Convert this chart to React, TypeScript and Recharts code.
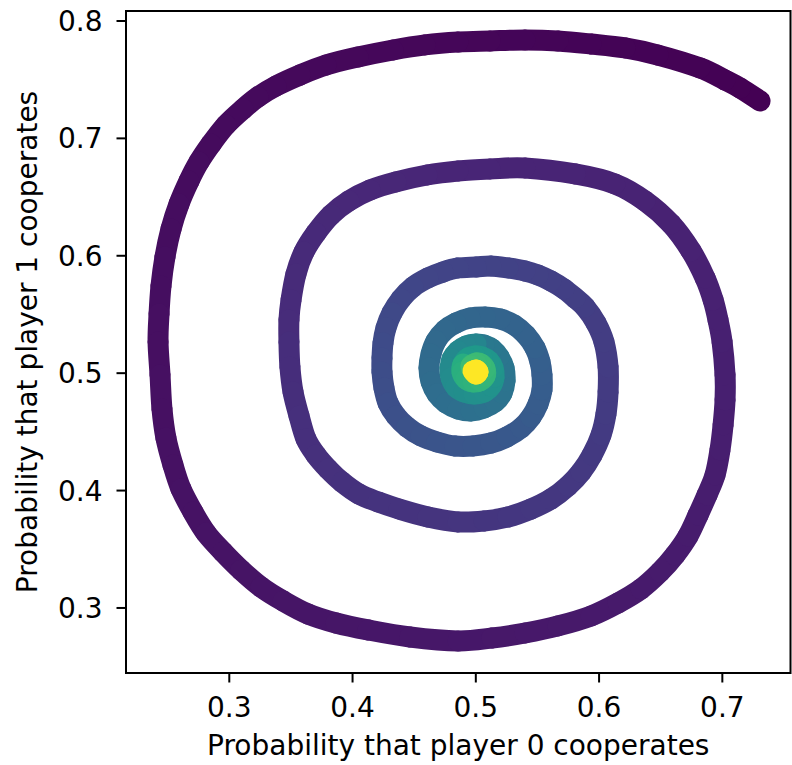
import { ScatterChart, Scatter, XAxis, YAxis, ReferenceArea } from "recharts";

// points, one array per turn of the spiral
const turn1: [number, number][] = [
  [0.7306, 0.7319], [0.7144, 0.7429], [0.7022, 0.7497], [0.6819, 0.76], [0.6478, 0.771],
  [0.6211, 0.777], [0.5935, 0.7804], [0.5667, 0.783], [0.5399, 0.7838], [0.5115, 0.783],
  [0.4856, 0.7821], [0.4588, 0.7796], [0.4328, 0.7753], [0.4044, 0.7693], [0.3785, 0.7625],
  [0.3574, 0.754], [0.3379, 0.7446], [0.3233, 0.7353], [0.3111, 0.725], [0.2973, 0.7114],
  [0.2852, 0.6952], [0.2754, 0.6799], [0.2673, 0.6637], [0.2592, 0.6441], [0.2527, 0.6228],
  [0.2478, 0.599], [0.2446, 0.5743], [0.243, 0.5504], [0.2422, 0.5266], [0.2438, 0.4985],
  [0.2454, 0.4695], [0.2486, 0.4448], [0.2543, 0.4218], [0.2608, 0.4014], [0.2705, 0.3818],
  [0.2811, 0.3639], [0.2949, 0.3477], [0.3095, 0.3324], [0.3257, 0.3179], [0.3436, 0.306],
  [0.3639, 0.2949], [0.3866, 0.2872], [0.4125, 0.2813], [0.4466, 0.2753], [0.4856, 0.2719],
  [0.5131, 0.2744], [0.5399, 0.2787], [0.5667, 0.2847], [0.5935, 0.2932], [0.6154, 0.3043],
  [0.634, 0.3162], [0.6495, 0.3307], [0.6616, 0.3451], [0.6722, 0.3613], [0.6803, 0.3792],
  [0.6876, 0.3963], [0.6941, 0.4133], [0.6981, 0.4346], [0.7006, 0.4559], [0.7022, 0.4772],
  [0.7022, 0.4985], [0.6998, 0.5266], [0.6965, 0.5453], [0.6925, 0.5624], [0.686, 0.5811],
  [0.6746, 0.6041], [0.6584, 0.6271], [0.6373, 0.6467], [0.6129, 0.6612], [0.5805, 0.6697],
  [0.5399, 0.6748], [0.5115, 0.6739], [0.4856, 0.6722],
];

const turn2: [number, number][] = [
  [0.4604, 0.6688], [0.4353, 0.6629], [0.4142, 0.656], [0.3971, 0.6467], [0.3825, 0.6348],
  [0.3703, 0.6194], [0.3606, 0.6032], [0.3541, 0.5845], [0.3501, 0.5624], [0.3484, 0.5453],
  [0.3484, 0.5266], [0.3492, 0.5053], [0.3517, 0.484], [0.3566, 0.4635], [0.3622, 0.444],
  [0.3703, 0.4303], [0.3801, 0.4184], [0.3914, 0.4073], [0.4052, 0.3971], [0.4207, 0.3903],
  [0.4377, 0.3843], [0.4612, 0.3775], [0.4856, 0.3733], [0.5067, 0.3741], [0.5261, 0.3775],
  [0.5448, 0.3843], [0.561, 0.3928], [0.5748, 0.4039], [0.5854, 0.4158], [0.5943, 0.4303],
  [0.6016, 0.4474], [0.6056, 0.4652], [0.6073, 0.484], [0.6073, 0.5053], [0.604, 0.5266],
  [0.5975, 0.5428], [0.5886, 0.5564], [0.5805, 0.5641], [0.5716, 0.5717], [0.561, 0.5785],
  [0.5505, 0.5836], [0.5399, 0.5871], [0.5261, 0.5896], [0.5123, 0.5913], [0.5002, 0.5905],
  [0.4856, 0.5896],
];

const turn3: [number, number][] = [
  [0.4734, 0.5862], [0.4612, 0.5811], [0.449, 0.5734], [0.4393, 0.5632], [0.432, 0.5513],
  [0.4271, 0.5385], [0.4247, 0.5257], [0.4239, 0.5129], [0.4239, 0.501], [0.4255, 0.4874],
  [0.4288, 0.4746], [0.4353, 0.4635], [0.4442, 0.4542], [0.4555, 0.4465], [0.4685, 0.4414],
  [0.4831, 0.438], [0.4977, 0.438], [0.5123, 0.4405], [0.5253, 0.4457], [0.5367, 0.4533],
  [0.5448, 0.4627], [0.5505, 0.4738], [0.5537, 0.4857], [0.5537, 0.4985], [0.5521, 0.5095],
];

const turn4: [number, number][] = [
  [0.548, 0.5215], [0.5407, 0.5325], [0.531, 0.5411], [0.5196, 0.5462], [0.5075, 0.5479],
  [0.4953, 0.547], [0.4839, 0.5428], [0.475, 0.5368], [0.4677, 0.5274], [0.4637, 0.5164],
  [0.462, 0.5044], [0.4637, 0.4925], [0.4685, 0.4823], [0.4758, 0.4746], [0.4856, 0.4695],
  [0.4961, 0.4678], [0.5067, 0.4704], [0.5156, 0.4755], [0.5213, 0.4831], [0.5237, 0.4934],
  [0.5229, 0.5044], [0.5188, 0.5138], [0.5131, 0.5206], [0.5067, 0.524],
];

const turn5: [number, number][] = [
  [0.5002, 0.5249], [0.492, 0.5232], [0.4856, 0.5189], [0.4807, 0.5121], [0.4791, 0.5044],
  [0.4799, 0.4959], [0.4839, 0.4882], [0.4904, 0.484], [0.4985, 0.4823], [0.5067, 0.484],
  [0.5123, 0.4891], [0.5148, 0.4968], [0.514, 0.5044], [0.5107, 0.5104], [0.505, 0.5138],
  [0.4994, 0.5147], [0.4937, 0.5129],
];

const turn6: [number, number][] = [
  [0.4896, 0.5078], [0.4888, 0.501], [0.492, 0.4951], [0.4977, 0.4925], [0.5034, 0.4934],
  [0.5075, 0.4976], [0.5075, 0.5036], [0.5042, 0.5078], [0.5002, 0.5087], [0.4961, 0.5061],
];

const centre: [number, number][] = [
  [0.4977, 0.5019], [0.5002, 0.4993], [0.5018, 0.501], [0.5002, 0.5027], [0.5, 0.501],
];

const turnShades: [string, string][] = [
  ["#440154", "#482576"],
  ["#482677", "#414487"],
  ["#414487", "#355f8d"],
  ["#34618d", "#2a788e"],
  ["#25858e", "#1f9a8a"],
  ["#27ad81", "#3fbc73"],
  ["#fde725", "#fde725"],
];

const xTicks = [0.3, 0.4, 0.5, 0.6, 0.7];
const yTicks = [0.3, 0.4, 0.5, 0.6, 0.7, 0.8];
const xDomain: [number, number] = [0.2162, 0.7553];
const yDomain: [number, number] = [0.2446, 0.8085];

const font = "'DejaVu Sans', sans-serif";

function mix(a: string, b: string, t: number) {
  const pa = [1, 3, 5].map((i) => parseInt(a.slice(i, i + 2), 16));
  const pb = [1, 3, 5].map((i) => parseInt(b.slice(i, i + 2), 16));
  const c = pa.map((v, i) => Math.round(v + (pb[i] - v) * t));
  return `rgb(${c[0]},${c[1]},${c[2]})`;
}

const turns = [turn1, turn2, turn3, turn4, turn5, turn6, centre];
const trail = turns.flatMap((pts, k) =>
  pts.map(([x, y], i) => ({
    x,
    y,
    shade: mix(turnShades[k][0], turnShades[k][1], pts.length > 1 ? i / (pts.length - 1) : 0),
  }))
);

// thick smooth trail, each piece coloured by its position along the path
const renderTrail = (props: any) => {
  const pts: { x: number; y: number }[] = props.points ?? [];
  const pieces = [];
  for (let i = 0; i < pts.length - 1; i++) {
    const p0 = pts[Math.max(i - 1, 0)];
    const p1 = pts[i];
    const p2 = pts[i + 1];
    const p3 = pts[Math.min(i + 2, pts.length - 1)];
    const c1x = p1.x + (p2.x - p0.x) / 6;
    const c1y = p1.y + (p2.y - p0.y) / 6;
    const c2x = p2.x - (p3.x - p1.x) / 6;
    const c2y = p2.y - (p3.y - p1.y) / 6;
    pieces.push(
      <path
        key={i}
        d={`M${p1.x},${p1.y}C${c1x},${c1y} ${c2x},${c2y} ${p2.x},${p2.y}`}
        stroke={trail[i].shade}
        strokeWidth={21}
        strokeLinecap="round"
        fill="none"
      />
    );
  }
  return <g>{pieces}</g>;
};

const tickStyle = { fontSize: 28, fontFamily: font, fill: "#000" };

export default function App() {
  return (
    <div style={{ position: "fixed", left: 0, top: 0, width: 792, height: 765, fontFamily: font, background: "#fff" }}>
      <ScatterChart width={792} height={765} margin={{ top: 11, right: 1.5, bottom: 0, left: 0 }}>
        <XAxis
          type="number"
          dataKey="x"
          domain={xDomain}
          ticks={xTicks}
          allowDataOverflow
          axisLine={false}
          tickLine={{ stroke: "#000", strokeWidth: 2 }}
          tickSize={9.5}
          tickMargin={15}
          height={92}
          tick={tickStyle}
          tickFormatter={(v: number) => v.toFixed(1)}
          label={{
            value: "Probability that player 0 cooperates",
            position: "insideBottom",
            offset: 10,
            style: { fontSize: 28, fontFamily: font, fill: "#000" },
          }}
        />
        <YAxis
          type="number"
          dataKey="y"
          domain={yDomain}
          ticks={yTicks}
          allowDataOverflow
          axisLine={false}
          tickLine={{ stroke: "#000", strokeWidth: 2 }}
          tickSize={9.5}
          tickMargin={14}
          width={126}
          tick={tickStyle}
          tickFormatter={(v: number) => v.toFixed(1)}
          label={{
            value: "Probability that player 1 cooperates",
            angle: -90,
            position: "insideLeft",
            offset: 27.5,
            style: { fontSize: 28, fontFamily: font, fill: "#000", textAnchor: "middle" },
          }}
        />
        <Scatter
          data={trail}
          isAnimationActive={false}
          fill="#440154"
          line={renderTrail}
          lineType="joint"
          shape={() => <g />}
        />
        <ReferenceArea
          x1={xDomain[0]}
          x2={xDomain[1]}
          y1={yDomain[0]}
          y2={yDomain[1]}
          fill="none"
          stroke="#000"
          strokeWidth={2}
          ifOverflow="visible"
        />
      </ScatterChart>
    </div>
  );
}
